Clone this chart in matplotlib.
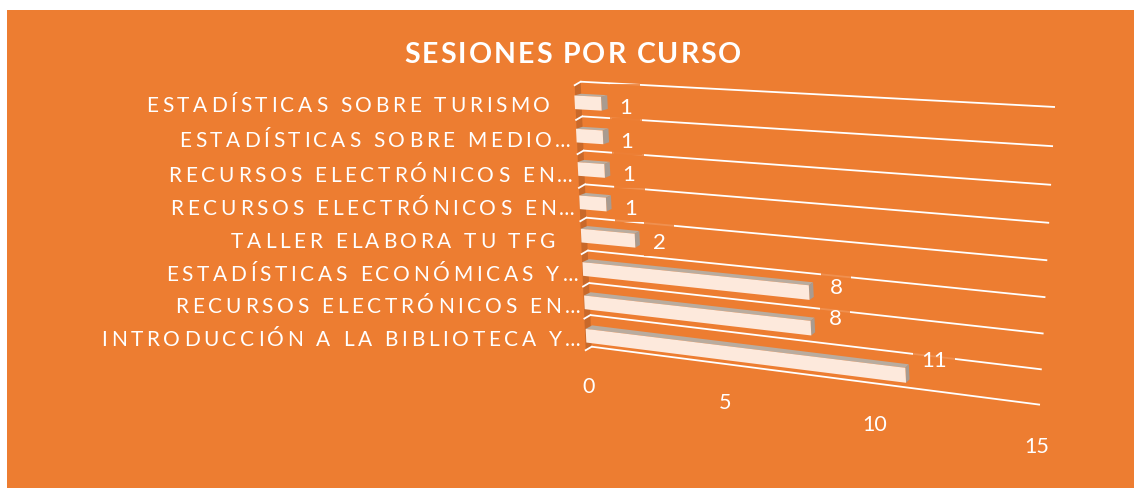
import numpy as np
import matplotlib
matplotlib.use("Agg")
import matplotlib.pyplot as plt
import matplotlib.text as mtext
import matplotlib.transforms as mtransforms
from matplotlib.patches import Polygon, Rectangle
from matplotlib.transforms import Bbox

# ---------- data (bottom to top) ----------
categories = [
    "INTRODUCCIÓN A LA BIBLIOTECA Y…",
    "RECURSOS ELECTRÓNICOS EN…",
    "ESTADÍSTICAS ECONÓMICAS Y…",
    "TALLER ELABORA TU TFG ",
    "RECURSOS ELECTRÓNICOS EN…",
    "RECURSOS ELECTRÓNICOS EN…",
    "ESTADÍSTICAS SOBRE MEDIO…",
    "ESTADÍSTICAS SOBRE TURISMO ",
]
sessions = [11, 8, 8, 2, 1, 1, 1, 1]
value_ticks = [0, 5, 10, 15]
chart_title = "SESIONES POR CURSO"

# ---------- layout (pixels) ----------
W, H = 1134, 489
ORANGE, WALL = "#ED7D31", "#C9692A"
FRONT, TOP, SIDE = "#FDE9DC", "#B9AC9F", "#A99B90"
label_right = [581, 580, 578, 555, 575, 573, 571, 550]
label_base = [345.7, 313.3, 280.7, 248, 215, 181.7, 147.3, 111.5]
tick_pos = [(589, 385), (725, 401), (875, 423), (1037, 445)]
value_label_nudge = [(4, 0), (0, 0), (3, 4), (0, 0), (0, 0), (0, 0), (0, 0), (0, 0)]


def solve_h(src, dst):
    A, b = [], []
    for (u, v), (x, y) in zip(src, dst):
        A.append([u, v, 1, 0, 0, 0, -u * x, -v * x]); b.append(x)
        A.append([0, 0, 0, u, v, 1, -u * y, -v * y]); b.append(y)
    return np.append(np.linalg.solve(np.array(A, float), np.array(b, float)), 1).reshape(3, 3)


class Homography(mtransforms.Transform):
    input_dims = output_dims = 2
    is_separable = False
    has_inverse = False

    def __init__(self, m, shift=(0, 0)):
        super().__init__()
        self.m, self.shift = m, np.asarray(shift, float)

    def transform_non_affine(self, xy):
        xy = np.asarray(xy, float)
        p = np.c_[xy, np.ones(len(xy))] @ self.m.T
        return p[:, :2] / p[:, 2:] + self.shift


class TrackedText(mtext.Text):
    """One text artist holding the whole string, drawn with letter spacing."""

    def __init__(self, x, y, s, tracking=0.0, **kw):
        super().__init__(x, y, s, **kw)
        self._tracking = tracking

    def _layout_chars(self, renderer):
        fp = self.get_fontproperties()
        s = self.get_text()
        m = lambda t: renderer.get_text_width_height_descent(t, fp, False)[0]
        base = m("|")
        offs = [m(s[:i] + "|") - base + i * self._tracking for i in range(len(s))]
        total = (m(s + "|") - base) + self._tracking * (len(s) - 1)
        return offs, total

    def draw(self, renderer):
        if not self.get_visible():
            return
        offs, total = self._layout_chars(renderer)
        x, y = self.get_transform().transform(self.get_position())
        ha = self.get_ha()
        x0 = x - total if ha == "right" else x - total / 2 if ha == "center" else x
        gc = renderer.new_gc()
        gc.set_foreground(self.get_color())
        gc.set_antialiased(True)
        fp = self.get_fontproperties()
        for ch, o in zip(self.get_text(), offs):
            if ch != " ":
                renderer.draw_text(gc, x0 + o, renderer.height - y, ch, fp, 0)
        gc.restore()

    def get_window_extent(self, renderer=None, dpi=None):
        renderer = renderer or self.get_figure().canvas.get_renderer()
        offs, total = self._layout_chars(renderer)
        x, y = self.get_transform().transform(self.get_position())
        ha = self.get_ha()
        x0 = x - total if ha == "right" else x - total / 2 if ha == "center" else x
        size = self.get_fontsize() * self.get_figure().dpi / 72
        return Bbox([[x0, y - 0.25 * size], [x0 + total, y + 0.8 * size]])


plt.rcParams["font.family"] = ["Lato", "DejaVu Sans"]
fig = plt.figure(figsize=(W / 100, H / 100), dpi=100, facecolor="white")
ax = fig.add_axes([0, 0, 1, 1])
ax.set_autoscale_on(False)
ax.set_xlim(0, W)
ax.set_ylim(H, 0)
ax.axis("off")
ax.add_patch(Rectangle((7, 11), W - 7, H - 11, color=ORANGE, lw=0, zorder=0))

n = len(categories)
vmax = value_ticks[-1]
wall_m = solve_h([(0, 0), (vmax, 0), (0, n), (vmax, n)],
                 [(591.7, 347.7), (1040, 405.7), (580.7, 82.7), (1055, 108)])
bar_m = solve_h([(0, .5), (11, .5), (0, 7.5), (11, 7.5)],
                [(586, 336.7), (905.7, 376.3), (574.7, 103.3), (893, 120.9)])
wall = Homography(wall_m)
floor = Homography(wall_m, (-6, 3.5))
bars_front = Homography(bar_m)

# side wall
cs = np.array([0, n])
wb = wall.transform(np.c_[[0, 0], cs])
wf = floor.transform(np.c_[[0, 0], cs])
ax.add_patch(Polygon([wb[0], wb[1], wf[1], wf[0]], closed=True, color=WALL, lw=0, zorder=1))

# gridlines plus floor ticks
for c in range(n + 1):
    ax.plot([0, vmax], [c, c], color="white", lw=1.3, solid_capstyle="butt",
            transform=wall + ax.transData, zorder=2)
    p = wall.transform([[0, c]])[0]
    q = floor.transform([[0, c]])[0]
    ax.plot([q[0], p[0]], [q[1], p[1]], color="white", lw=1.3, zorder=2)

# bars
ypos = np.arange(n) + 0.5
bh = 0.41
ax.barh(ypos, sessions, height=bh, color=FRONT, lw=0, zorder=5,
        transform=bars_front + ax.transData)
for c, v in zip(ypos, sessions):
    fl_t, fr_t, fr_b = bars_front.transform([[0, c + bh / 2], [v, c + bh / 2], [v, c - bh / 2]])
    depth_x = 3.3 + 0.38 * c
    depth_y = -3.6 + 0.25 * c
    bl, br = np.array([6.5, depth_y]), np.array([depth_x, depth_y])
    ax.add_patch(Polygon([fl_t, fr_t, fr_t + br, fl_t + bl], closed=True, color=TOP, lw=0, zorder=4))
    ax.add_patch(Polygon([fr_t, fr_t + br, fr_b + br, fr_b], closed=True, color=SIDE, lw=0, zorder=4))

# data labels with their translucent boxes
for c, v, (nx, ny) in zip(ypos, sessions, value_label_nudge):
    ex, ey = bars_front.transform([[v, c]])[0]
    lx = ex + 24 + nx
    ly = ey + 1.5 - 1.9 * (v - 1) + ny
    hw = 15 if v < 10 else 21
    ax.add_patch(Rectangle((lx - hw, ly - 21), 2 * hw, 37, color=ORANGE, alpha=0.85, lw=0, zorder=3))
    ax.text(lx, ly, str(v), color="white", fontsize=16, ha="center", va="center_baseline", zorder=6)

# value axis labels
for t, (x, y) in zip(value_ticks, tick_pos):
    ax.text(x, y, str(t), color="white", fontsize=15.5, ha="center", va="center_baseline", zorder=6)

# category labels
for name, r, b in zip(categories, label_right, label_base):
    t = TrackedText(r, b, name.rstrip(), tracking=3.7, color="white", fontsize=15, ha="right", va="baseline", zorder=6)
    ax.add_artist(t)

# title
t = TrackedText(573, 63, chart_title, tracking=2.0, color="white", fontsize=20.5, fontweight="bold",
                ha="center", va="baseline", zorder=6)
ax.add_artist(t)

fig.savefig("out.png", dpi=100, facecolor="white")
